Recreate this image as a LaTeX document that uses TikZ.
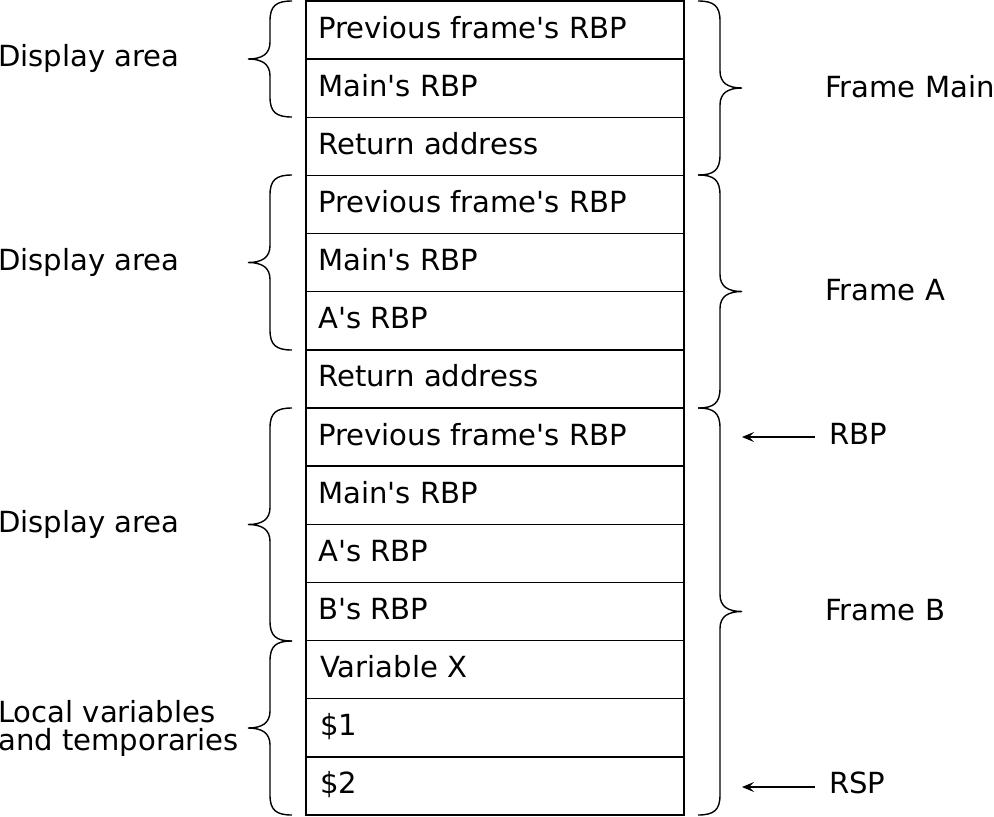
\documentclass[tikz,border=0pt]{standalone}
\usepackage{fontspec}
\setmainfont{DejaVu Sans}[Ligatures=TeXOff]
\usetikzlibrary{arrows.meta,calc}
\newcommand\mybraceL[2]{%
  \pgfmathsetmacro\bm{(#1+#2)/2}%
  \draw[brace] (292,#1) .. controls (276,#1) and (270,{#1+5}) .. (270,{#1+20})
    -- (270,{\bm-17}) .. controls (270,{\bm-5}) and (262,\bm) .. (248,\bm)
    .. controls (262,\bm) and (270,{\bm+5}) .. (270,{\bm+17})
    -- (270,{#2-20}) .. controls (270,{#2-5}) and (276,#2) .. (292,#2);}
\newcommand\mybraceR[2]{%
  \pgfmathsetmacro\bm{(#1+#2)/2}%
  \draw[brace] (698,#1) .. controls (714,#1) and (720,{#1+5}) .. (720,{#1+20})
    -- (720,{\bm-17}) .. controls (720,{\bm-5}) and (728,\bm) .. (742,\bm)
    .. controls (728,\bm) and (720,{\bm+5}) .. (720,{\bm+17})
    -- (720,{#2-20}) .. controls (720,{#2-5}) and (714,#2) .. (698,#2);}
\begin{document}
\begin{tikzpicture}[x=1pt,y=-1pt,
  cell/.style={draw, line width=1.5pt, minimum width=378pt, minimum height=58.14pt, inner sep=0pt, outer sep=0pt},
  txt/.style={anchor=base west, inner sep=0pt, font=\fontsize{29.1}{29}\selectfont},
  brace/.style={line width=1.4pt},
  ptr/.style={line width=1.2pt, -{Stealth[length=12pt,width=10pt,inset=5pt]}}]
\useasboundingbox (0,0) rectangle (994,817);
\foreach \i/\t/\dx in {0/Previous frame's RBP/318, 1/Main's RBP/318, 2/Return address/318,
  3/Previous frame's RBP/318, 4/Main's RBP/318, 5/A's RBP/318, 6/Return address/318,
  7/Previous frame's RBP/318, 8/Main's RBP/318, 9/A's RBP/318, 10/B's RBP/318,
  11/Variable X/320, 12/\$1/320, 13/\$2/320}{
  \pgfmathsetmacro\top{1+\i*58.143}
  \node[cell] (r\i) at (495,{\top+29.07}) {};
  \node[txt] (t\i) at (\dx,{\top+37}) {\t};
}
% left braces
\mybraceL{1}{117}
\mybraceL{175}{350}
\mybraceL{408}{641}
\mybraceL{641}{815}
% right braces
\mybraceR{1}{175}
\mybraceR{175}{408}
\mybraceR{408}{815}
% left labels
\node[txt] (da1) at (-2,66) {Display area};
\node[txt] (da2) at (-2,270) {Display area};
\node[txt] (da3) at (-2,532) {Display area};
\node[txt] (loc1) at (-2,722) {Local variables};
\node[txt] (loc2) at (-2,750) {and temporaries};
% right labels
\node[txt] (fm) at (825,97) {Frame Main};
\node[txt] (fa) at (825,300) {Frame A};
\node[txt] (fb) at (825,620) {Frame B};
\node[txt] (rbp) at (829,444) {RBP};
\node[txt] (rsp) at (829,793) {RSP};
\coordinate (rbptip) at (742,437);
\coordinate (rsptip) at (742,787);
\draw[ptr] ([shift={(-14,-7)}]rbp.base west) -- (rbptip);
\draw[ptr] ([shift={(-14,-6)}]rsp.base west) -- (rsptip);
\end{tikzpicture}
\end{document}
